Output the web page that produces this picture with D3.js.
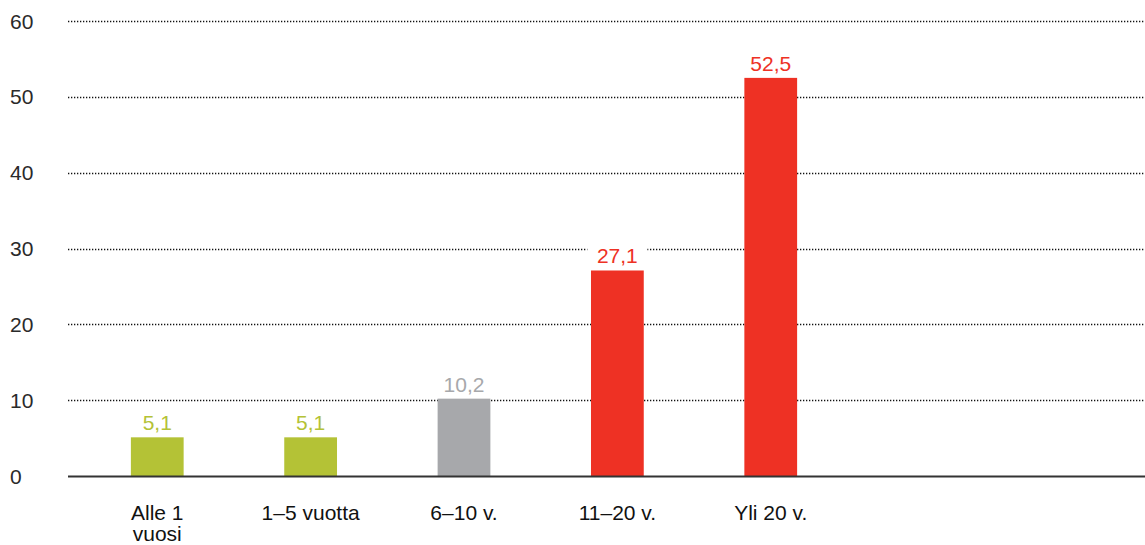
<!doctype html>
<html>
<head>
    <meta charset="utf-8">
    <script src="https://d3js.org/d3.v7.min.js"></script>
</head>
<style>
    body { margin: 0; background: #fff; }
    svg text { font-family: "Liberation Sans", Arial, sans-serif; }
</style>
<body>
    <div id="chart"></div>
    <script>
        // data
        var categories = ["Alle 1 vuosi", "1–5 vuotta", "6–10 v.", "11–20 v.", "Yli 20 v."];
        var values = [5.1, 5.1, 10.2, 27.1, 52.5];
        var groups = ["green", "green", "grey", "red", "red"];
        var yTicks = [0, 10, 20, 30, 40, 50, 60];

        var colors = { green: "#b4c236", grey: "#a7a8ab", red: "#ee3124" };

        var width = 1145,
            height = 545,
            left = 68,
            right = 1145;

        var svg = d3.select("#chart")
                    .append("svg")
                    .attr("width", width)
                    .attr("height", height);

        var x = d3.scaleBand()
                  .domain(categories)
                  .range([left, 860])
                  .paddingInner(0.656)
                  .paddingOuter(0.41);

        var y = d3.scaleLinear()
                  .domain([0, 60])
                  .range([476, 21]);

        // dotted gridlines
        svg.append("g")
           .selectAll("line")
           .data(yTicks.filter(function(d) { return d > 0; }))
           .enter()
           .append("line")
           .attr("x1", left)
           .attr("x2", right)
           .attr("y1", function(d) { return Math.round(y(d)) + 0.5; })
           .attr("y2", function(d) { return Math.round(y(d)) + 0.5; })
           .attr("stroke", "#111")
           .attr("stroke-width", 1.3)
           .attr("stroke-dasharray", "1.3,1.7");

        // y tick labels
        svg.append("g")
           .selectAll("text")
           .data(yTicks)
           .enter()
           .append("text")
           .attr("x", 10)
           .attr("y", function(d) { return y(d); })
           .attr("dy", "0.36em")
           .attr("font-size", "21px")
           .attr("fill", "#2a2a2a")
           .text(function(d) { return d; });

        // bars
        svg.append("g")
           .selectAll("rect")
           .data(values)
           .enter()
           .append("rect")
           .attr("x", function(d, i) { return x(categories[i]); })
           .attr("y", function(d) { return y(d); })
           .attr("width", x.bandwidth())
           .attr("height", function(d) { return y(0) - y(d); })
           .attr("fill", function(d, i) { return colors[groups[i]]; });

        // value labels with white backing over the gridlines
        var fmt = function(d) { return d.toFixed(1).replace(".", ","); };
        var lab = svg.append("g")
                     .selectAll("g")
                     .data(values)
                     .enter()
                     .append("g")
                     .attr("transform", function(d, i) {
                         return "translate(" + (x(categories[i]) + x.bandwidth() / 2) + "," + (y(d) - 7) + ")";
                     });
        lab.append("rect")
           .attr("x", -30)
           .attr("y", -19)
           .attr("width", 60)
           .attr("height", 22)
           .attr("fill", "#fff");
        lab.append("text")
           .attr("text-anchor", "middle")
           .attr("font-size", "21px")
           .attr("fill", function(d, i) { return colors[groups[i]]; })
           .text(fmt);

        // baseline
        svg.append("line")
           .attr("x1", left)
           .attr("x2", right)
           .attr("y1", y(0) + 0.5)
           .attr("y2", y(0) + 0.5)
           .attr("stroke", "#333")
           .attr("stroke-width", 2);

        // category labels, first one wraps to two lines
        var cat = svg.append("g")
                     .selectAll("text")
                     .data(categories)
                     .enter()
                     .append("text")
                     .attr("text-anchor", "middle")
                     .attr("font-size", "21px")
                     .attr("fill", "#111")
                     .attr("transform", function(d) {
                         return "translate(" + (x(d) + x.bandwidth() / 2) + ",520)";
                     });
        cat.selectAll("tspan")
           .data(function(d) { return d === "Alle 1 vuosi" ? ["Alle 1", "vuosi"] : [d]; })
           .enter()
           .append("tspan")
           .attr("x", 0)
           .attr("dy", function(d, i) { return i === 0 ? 0 : 21; })
           .text(function(d) { return d; });
    </script>
</body>
</html>
